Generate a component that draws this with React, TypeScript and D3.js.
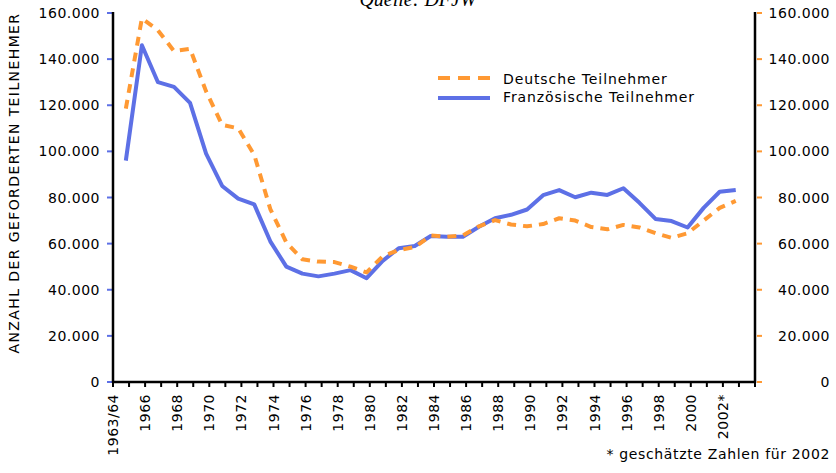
import React from "react";
import * as d3 from "d3";

const categories = [
  "1963/64", "1965", "1966", "1967", "1968", "1969", "1970", "1971", "1972", "1973",
  "1974", "1975", "1976", "1977", "1978", "1979", "1980", "1981", "1982", "1983",
  "1984", "1985", "1986", "1987", "1988", "1989", "1990", "1991", "1992", "1993",
  "1994", "1995", "1996", "1997", "1998", "1999", "2000", "2001", "2002*",
];

const deutsche = [
  118500, 157700, 152500, 143500, 144500, 126000, 111500, 110000, 98500, 75000,
  60500, 53200, 52200, 52000, 50000, 47500, 54500, 57200, 58500, 63500,
  63000, 63500, 67500, 70200, 68300, 67500, 68500, 71000, 70000, 67200,
  66200, 68100, 67000, 64500, 62500, 64500, 70000, 75500, 78500,
];

const franzoesische = [
  96000, 146000, 130000, 128000, 121000, 99000, 85000, 79500, 77000, 61000,
  50000, 47000, 45800, 47000, 48500, 45000, 52500, 58000, 59000, 63300,
  63000, 63000, 67300, 71000, 72500, 74800, 81000, 83200, 80100, 82100,
  81100, 84000, 77700, 70700, 69800, 67000, 75500, 82500, 83300,
];

const yTicks = [0, 20000, 40000, 60000, 80000, 100000, 120000, 140000, 160000];

const seriesNames = ["Deutsche Teilnehmer", "Französische Teilnehmer"];
const yTitle = "ANZAHL DER GEFORDERTEN TEILNEHMER";
const sourceText = "Quelle: DFJW";
const noteText = "* geschätzte Zahlen für 2002";

const ORANGE = "#ff9933";
const BLUE = "#5d70e6";
const FONT = "'DejaVu Sans', Verdana, sans-serif";

export default function App() {
  const W = 836;
  const H = 473;
  const left = 113;
  const right = 755;
  const top = 13;
  const bottom = 382;

  const x = d3.scaleLinear().domain([0, categories.length + 1]).range([left, right]);
  const dataOffset = 0.8;
  const y = d3.scaleLinear().domain([0, 160000]).range([bottom, top]);

  const loc = d3.formatLocale({ decimal: ",", thousands: ".", grouping: [3], currency: ["", "€"] });
  const fmt = loc.format(",d");

  const line = d3
    .line<number>()
    .x((_, i) => x(i + dataOffset))
    .y((d) => y(d));

  const tickIdx = d3.range(0, categories.length + 2);

  return (
    <svg
      width={W}
      height={H}
      style={{ position: "absolute", left: 0, top: 0, background: "#fff" }}
      fontFamily={FONT}
    >
      <rect x={0} y={0} width={W} height={H} fill="#fff" />
      {/* source */}
      <text
        x={418}
        y={6}
        textAnchor="middle"
        fontFamily="'Liberation Serif', 'Times New Roman', serif"
        fontStyle="italic"
        fontSize={20}
        fill="#000"
      >
        {sourceText}
      </text>

      {/* y title */}
      <text
        transform={`translate(19,183) rotate(-90)`}
        textAnchor="middle"
        fontSize={14}
        letterSpacing={1.4}
        fill="#000"
      >
        {yTitle}
      </text>

      {/* left ticks & labels */}
      {yTicks.map((t) => (
        <g key={"l" + t}>
          <line x1={107} x2={112} y1={y(t)} y2={y(t)} stroke={BLUE} strokeWidth={2} />
          <text
            x={100}
            y={y(t)}
            dy="0.36em"
            textAnchor="end"
            fontSize={14}
            letterSpacing={0.5}
            fill="#000"
          >
            {fmt(t)}
          </text>
        </g>
      ))}

      {/* right ticks & labels */}
      {yTicks.map((t) => (
        <g key={"r" + t}>
          <line x1={757} x2={762} y1={y(t)} y2={y(t)} stroke={ORANGE} strokeWidth={2} />
          <text
            x={830}
            y={y(t)}
            dy="0.36em"
            textAnchor="end"
            fontSize={14}
            letterSpacing={0.5}
            fill="#000"
          >
            {fmt(t)}
          </text>
        </g>
      ))}

      {/* x ticks */}
      {tickIdx.map((k) => (
        <line
          key={"xt" + k}
          x1={x(k)}
          x2={x(k)}
          y1={bottom}
          y2={bottom + 5}
          stroke="#000"
          strokeWidth={2}
        />
      ))}
      {categories.map((c, i) =>
        i % 2 === 0 ? (
          <text
            key={"xl" + c}
            transform={`translate(${x(i)},${bottom + 12}) rotate(-90)`}
            textAnchor="end"
            dy="0.36em"
            fontSize={14}
            letterSpacing={0.5}
            fill="#000"
          >
            {c}
          </text>
        ) : null
      )}

      {/* axes */}
      <line x1={left} x2={left} y1={top - 1} y2={bottom + 1} stroke="#000" strokeWidth={2.5} />
      <line x1={right} x2={right} y1={top - 1} y2={bottom + 1} stroke="#000" strokeWidth={2.5} />
      <line x1={left} x2={right + 1} y1={bottom} y2={bottom} stroke="#000" strokeWidth={2.5} />

      {/* series */}
      <path
        d={line(franzoesische) || ""}
        fill="none"
        stroke={BLUE}
        strokeWidth={4}
        strokeLinejoin="round"
      />
      <path
        d={line(deutsche) || ""}
        fill="none"
        stroke={ORANGE}
        strokeWidth={4}
        strokeDasharray="9,7"
        strokeLinejoin="round"
      />

      {/* legend */}
      <line x1={438} x2={490} y1={78} y2={78} stroke={ORANGE} strokeWidth={4} strokeDasharray="12,8" />
      <line x1={438} x2={490} y1={98} y2={98} stroke={BLUE} strokeWidth={4} />
      <text x={503} y={83.5} fontSize={14} letterSpacing={0.9} fill="#000">
        {seriesNames[0]}
      </text>
      <text x={503} y={101.5} fontSize={14} letterSpacing={0.9} fill="#000">
        {seriesNames[1]}
      </text>

      {/* note */}
      <text x={830} y={459} textAnchor="end" fontSize={14} letterSpacing={0.65} fill="#000">
        {noteText}
      </text>
    </svg>
  );
}
